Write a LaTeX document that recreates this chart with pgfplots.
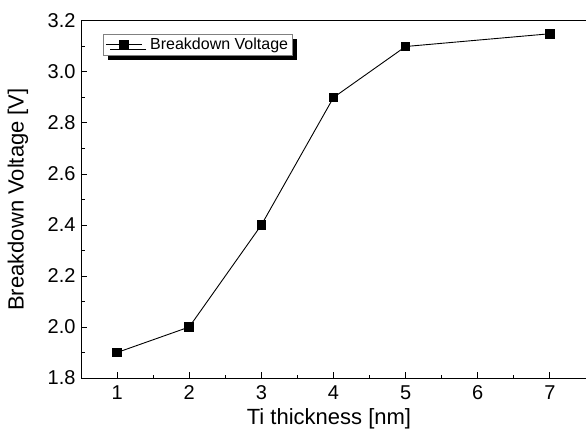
\documentclass[border=0pt]{standalone}
\usepackage{pgfplots}
\pgfplotsset{compat=1.18}
\usepackage{fontspec}
\setmainfont{Liberation Sans}
\usetikzlibrary{shadows}
\begin{document}
\begin{tikzpicture}
\begin{axis}[
  scale only axis,
  width=505bp, height=357bp,
  xmin=0.5, xmax=7.5, ymin=1.8, ymax=3.2,
  axis x line*=box, axis y line*=left,
  axis line style={line width=1bp},
  xtick={1,2,3,4,5,6,7},
  ytick={1.8,2.0,2.2,2.4,2.6,2.8,3.0,3.2},
  minor x tick num=1, minor y tick num=1,
  xtick pos=bottom, ytick pos=left,
  tick align=inside,
  major tick length=6bp, minor tick length=3.5bp,
  every tick/.style={line width=1bp, black},
  /pgf/number format/assume math mode=true,
  yticklabel style={/pgf/number format/fixed, /pgf/number format/fixed zerofill, /pgf/number format/precision=1, xshift=-2bp},
  xticklabel style={yshift=-4bp},
  tick label style={font=\fontsize{20bp}{23bp}\selectfont},
  label style={font=\fontsize{22bp}{26bp}\selectfont},
  xlabel={Ti thickness [nm]},
  ylabel={Breakdown Voltage [V]},
  xlabel style={at={(axis description cs:0.491,-0.115)}, anchor=center},
  ylabel style={at={(axis description cs:-0.1248,0.5)}, anchor=center},
  legend style={at={(0,1)}, anchor=north west, xshift=22bp, yshift=-13bp,
    draw=gray, line width=0.6bp, fill=white, font=\fontsize{16bp}{18bp}\selectfont,
    inner xsep=2bp, inner ysep=2bp,
    drop shadow={shadow xshift=4.5bp, shadow yshift=-4.5bp, fill=black, opacity=1}},
  legend cell align=left,
  legend image code/.code={\draw[mark repeat=2,mark phase=2] plot coordinates {(2bp,0bp) (20bp,0bp) (38bp,0bp)};\path (44bp,0bp);},
]
\addplot[black, line width=0.9bp, mark=square*, mark size=4.3bp, mark options={solid, fill=black}]
  coordinates {(1,1.9) (2,2.0) (3,2.4) (4,2.9) (5,3.1) (7,3.15)};
\addlegendentry{Breakdown Voltage}
\coordinate (sw) at (rel axis cs:0,0);
\coordinate (ne) at (rel axis cs:1,1);
\end{axis}
\pgfresetboundingbox
\path[use as bounding box] ([xshift=-81bp,yshift=-53bp]sw) rectangle ([yshift=21bp]ne);
\end{tikzpicture}
\end{document}
